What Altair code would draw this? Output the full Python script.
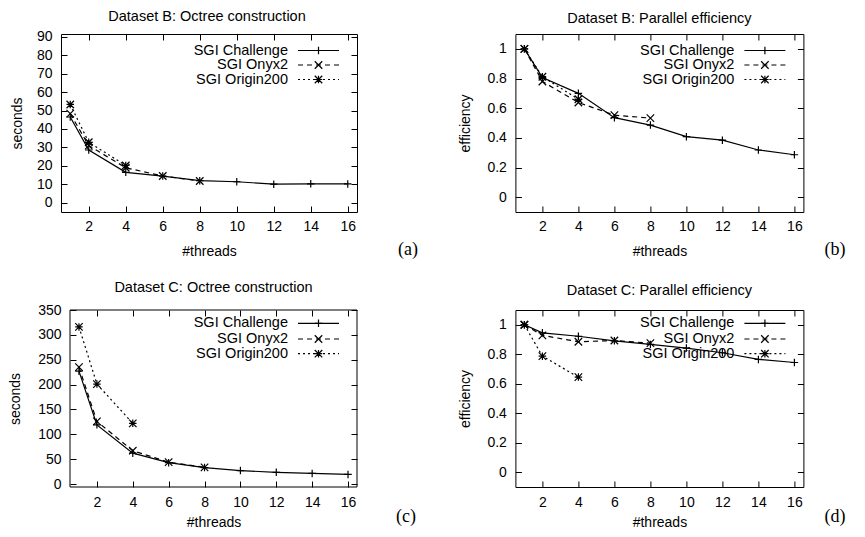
import altair as alt
import pandas as pd

# ---------------- data ----------------
series_names = ["SGI Challenge", "SGI Onyx2", "SGI Origin200"]

threads_challenge = [1, 2, 4, 6, 8, 10, 12, 14, 16]
threads_onyx2 = [1, 2, 4, 6, 8]
threads_origin200 = [1, 2, 4]

# Dataset B: octree construction (seconds)
b_time_challenge = [46.5, 28.6, 16.5, 14.5, 12.0, 11.4, 10.1, 10.3, 10.2]
b_time_onyx2 = [48.3, 31.0, 19.0, 14.5, 11.8]
b_time_origin200 = [53.3, 32.8, 20.2]

# Dataset B: parallel efficiency
b_eff_challenge = [1.0, 0.807, 0.70, 0.536, 0.486, 0.408, 0.384, 0.318, 0.286]
b_eff_onyx2 = [1.0, 0.78, 0.638, 0.553, 0.533]
b_eff_origin200 = [1.0, 0.812, 0.66]

# Dataset C: octree construction (seconds)
c_time_challenge = [227, 119, 62, 43, 33, 27, 23.5, 21.3, 19.3]
c_time_onyx2 = [235, 126, 67, 44, 33.5]
c_time_origin200 = [316, 201, 122]

# Dataset C: parallel efficiency
c_eff_challenge = [1.0, 0.945, 0.922, 0.891, 0.867, 0.842, 0.81, 0.765, 0.744]
c_eff_onyx2 = [1.0, 0.928, 0.885, 0.893, 0.875]
c_eff_origin200 = [1.0, 0.787, 0.645]

x_ticks = [2, 4, 6, 8, 10, 12, 14, 16]
y_ticks_b_time = [0, 10, 20, 30, 40, 50, 60, 70, 80, 90]
y_ticks_c_time = [0, 50, 100, 150, 200, 250, 300, 350]
y_ticks_eff = [0, 0.2, 0.4, 0.6, 0.8, 1]

threads_all = [threads_challenge, threads_onyx2, threads_origin200]

# ---------------- style ----------------
FONT = "Liberation Sans"
FS = 14
FS_TEXT = 14.5
PLUS = "M-1,0L1,0M0,-1L0,1"
CROSS = "M-1,-1L1,1M-1,1L1,-1"
STAR = PLUS + CROSS
DASHES = [None, [5, 4], [2, 3]]
SHAPES = [PLUS, CROSS, STAR]
LW = 1.2
MSIZE = 56


def line_mark(i):
    kw = dict(color="black", strokeWidth=LW, clip=True)
    if DASHES[i] is not None:
        kw["strokeDash"] = DASHES[i]
    return kw


def rule_mark(i):
    kw = dict(color="black", strokeWidth=LW)
    if DASHES[i] is not None:
        kw["strokeDash"] = DASHES[i]
    return kw


def point_mark(i):
    return dict(shape=SHAPES[i], size=MSIZE, filled=False, color="black",
                strokeWidth=LW, opacity=1)


def make_panel(title, ytitle, values_list, ydomain, yticks, w, h, tag,
               tag_dx, tag_dy, title_offset, xlab_pad, xtitle_pad, legend_ys,
               ytitle_pad=14, inset=0, title_dx=0):
    if inset:
        xs = alt.Scale(domain=[0.5, 16.5], nice=False, zero=False,
                       range=[inset, w])
    else:
        xs = alt.Scale(domain=[0.5, 16.5], nice=False, zero=False)
    ys = alt.Scale(domain=ydomain, nice=False, zero=False)
    ax_bottom = alt.Axis(orient="bottom", values=x_ticks, format=".6~g",
                         offset=-6, tickSize=6,
                         labelPadding=xlab_pad, titlePadding=xtitle_pad,
                         domain=False, grid=False, labelFlush=False,
                         labelOverlap=False, minExtent=0)
    ax_left = alt.Axis(orient="left", values=yticks, format=".6~g",
                       offset=-6 - inset, tickSize=6, labelPadding=9,
                       titlePadding=ytitle_pad, domain=False, grid=False,
                       labelFlush=False, labelOverlap=False, minExtent=0)
    ax_top = alt.Axis(orient="top", values=x_ticks, offset=-6, tickSize=6,
                      labels=False, domain=False, grid=False, minExtent=0)
    ax_right = alt.Axis(orient="right", values=yticks, offset=-6, tickSize=6,
                        labels=False, domain=False, grid=False, minExtent=0)

    layers = []
    if inset:
        fdf = pd.DataFrame({"f": [0]})
        layers.append(
            alt.Chart(fdf).mark_rect(filled=False, stroke="black",
                                     strokeWidth=1)
            .encode(x=alt.value(inset), x2=alt.value(w),
                    y=alt.value(0), y2=alt.value(h)))
    for i, (th, vals) in enumerate(zip(threads_all, values_list)):
        df = pd.DataFrame({"t": th, "v": vals})
        if i == 0:
            xl = alt.X("t:Q", scale=xs, axis=ax_bottom, title="#threads")
            yl = alt.Y("v:Q", scale=ys, axis=ax_left, title=ytitle)
            xp = alt.X("t:Q", scale=xs, axis=ax_top, title=None)
            yp = alt.Y("v:Q", scale=ys, axis=ax_right, title=None)
        else:
            xl = alt.X("t:Q", scale=xs, axis=None)
            yl = alt.Y("v:Q", scale=ys, axis=None)
            xp = xl
            yp = yl
        layers.append(alt.Chart(df).mark_line(**line_mark(i)).encode(x=xl, y=yl))
        layers.append(alt.Chart(df).mark_point(**point_mark(i)).encode(x=xp, y=yp))

    # legend (gnuplot style key, inside top-right)
    for i, name in enumerate(series_names):
        ldf = pd.DataFrame({"label": [name]})
        ly = legend_ys[i]
        layers.append(
            alt.Chart(ldf).mark_text(align="right", baseline="middle", font=FONT,
                                     fontSize=FS_TEXT, color="black")
            .encode(x=alt.value(w - 69), y=alt.value(ly), text="label:N"))
        layers.append(
            alt.Chart(ldf).mark_rule(**rule_mark(i))
            .encode(x=alt.value(w - 59), x2=alt.value(w - 18), y=alt.value(ly)))
        layers.append(
            alt.Chart(ldf).mark_point(**point_mark(i))
            .encode(x=alt.value(w - 38.5), y=alt.value(ly)))

    tdf = pd.DataFrame({"tag": [tag]})
    layers.append(
        alt.Chart(tdf).mark_text(align="left", baseline="middle",
                                 font="Liberation Serif", fontSize=18,
                                 color="black")
        .encode(x=alt.value(w + tag_dx), y=alt.value(h + tag_dy), text="tag:N"))

    props = dict(width=w, height=h,
                 title=alt.TitleParams(title, fontSize=FS_TEXT, font=FONT,
                                       fontWeight="normal", frame="group",
                                       offset=title_offset, dx=title_dx,
                                       anchor="middle", color="black"))
    if inset:
        props["view"] = alt.ViewBackground(stroke="transparent")
    return (alt.layer(*layers)
            .resolve_axis(x="independent", y="independent")
            .properties(**props))


row1_legend = [16.5, 31, 45.5]
row2_legend = [13.3, 29, 43.7]

pa = make_panel("Dataset B: Octree construction", "seconds",
                [b_time_challenge, b_time_onyx2, b_time_origin200],
                [-5, 91.5], y_ticks_b_time, 296, 178, "(a)", 41, 37.5,
                5.5, 7, 11, row1_legend, ytitle_pad=12, title_dx=-2)
pb = make_panel("Dataset B: Parallel efficiency", "efficiency",
                [b_eff_challenge, b_eff_onyx2, b_eff_origin200],
                [-0.1, 1.1], y_ticks_eff, 288, 178, "(b)", 21, 37.5,
                7.5, 7, 11, row1_legend)
pc = make_panel("Dataset C: Octree construction", "seconds",
                [c_time_challenge, c_time_onyx2, c_time_origin200],
                [-6, 350], y_ticks_c_time, 296, 177, "(c)", 39, 30,
                7.5, 8, 6, row2_legend, ytitle_pad=15, inset=9, title_dx=4.5)
pd_ = make_panel("Dataset C: Parallel efficiency", "efficiency",
                 [c_eff_challenge, c_eff_onyx2, c_eff_origin200],
                 [-0.1, 1.1], y_ticks_eff, 288, 177, "(d)", 21, 30,
                 11, 8, 6, row2_legend)

chart = (
    alt.vconcat(alt.hconcat(pa, pb, spacing=39.4),
                alt.hconcat(pc, pd_, spacing=41.4),
                spacing=20)
    .properties(padding={"left": 0, "top": 0, "right": 0, "bottom": 0},
                background="white")
    .configure_view(stroke="black", strokeWidth=1)
    .configure_axis(labelFont=FONT, labelFontSize=FS, labelColor="black",
                    titleFont=FONT, titleFontSize=FS, titleColor="black",
                    titleFontWeight="normal", tickColor="black", tickWidth=1)
)

chart.save("out.html", embed_options={"renderer": "svg", "actions": False})
